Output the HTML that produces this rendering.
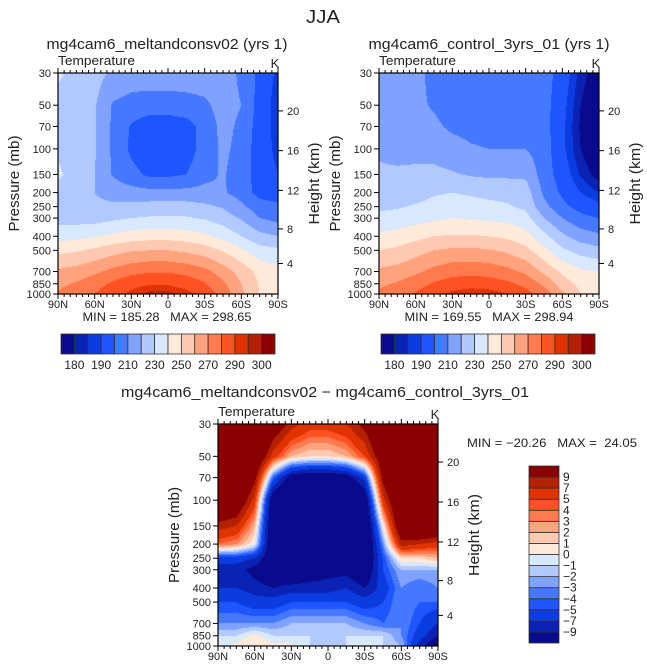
<!DOCTYPE html>
<html><head><meta charset="utf-8">
<style>
body{margin:0;background:#fff;width:647px;height:669px;overflow:hidden;position:relative;font-family:"Liberation Sans",sans-serif}
canvas{position:absolute}
svg{position:absolute;left:0;top:0}
text{white-space:pre}
</style></head>
<body>
<canvas id="c1" style="left:58px;top:73px" width="220" height="221"></canvas>
<canvas id="c2" style="left:379px;top:73px" width="220" height="221"></canvas>
<canvas id="c3" style="left:218px;top:424px" width="220" height="222"></canvas>
<svg id="ov" width="647" height="669"></svg>
<script>
// ---- data ----
const latLabels = ["90N","60N","30N","0","30S","60S","90S"];
const presLevels = [30,50,70,100,150,200,250,300,400,500,700,850,1000];
const heightTicks = [20,16,12,8,4];
const tempBounds = [180,185,190,200,210,220,230,240,250,260,270,280,290,295,300];
const tempBarLabels = ["180","","190","","210","","230","","250","","270","","290","","300"];
const diffBounds = [-9,-7,-5,-4,-3,-2,-1,0,1,2,3,4,5,7,9];
const diffBarLabels = ["−9","−7","−5","−4","−3","−2","−1","0","1","2","3","4","5","7","9"];
// rows: pressure levels; columns: 90N..90S every 15 deg
const tempMelt = [
[232,226,224,218,216,216,216,216,216,215,208,197,188],
[226,225,221,209,206,205,205,206,208,214,210,196,186],
[227,225,221,208,199,194,194,196,204,213,208,195,187],
[228,226,221,208,198,193,193,195,204,212,207,194,188],
[232,225,220,209,203,198,198,200,207,211,205,195,190],
[226,224,220,216,214,213,213,213,213,211,206,196,193],
[224,224,222,222,223,224,225,224,222,219,212,205,203],
[226,226,226,228,230,231,231,231,229,225,219,210,207],
[236,237,239,242,245,246,246,245,242,237,230,223,220],
[247,249,252,256,259,260,260,258,255,249,242,234,232],
[262,264,268,273,277,279,279,277,273,265,256,247,243],
[268,271,276,282,287,289,289,286,281,272,260,249,240],
[271,275,280,286,292,297,297,293,286,277,262,250,245]];
const tempCtrl = [
[215,215,213,207,205,205,205,205,205,205,195,183,175],
[215,214,212,209,205,204,204,204,205,204,193,180,172],
[216,214,213,212,208,207,206,206,205,204,192,179,171],
[219,218,217,217,214,211,210,210,210,205,192,180,172],
[221,221,222,222,221,219,218,218,218,205,195,184,177],
[223,224,226,229,230,229,228,227,225,208,198,190,185],
[228,229,231,233,234,233,232,231,228,213,203,196,192],
[233,234,236,238,240,239,238,237,234,220,210,203,200],
[242,244,247,250,251,251,250,248,244,233,222,215,212],
[250,252,256,260,262,262,261,258,253,243,232,226,223],
[262,264,268,273,276,277,276,273,268,258,248,242,240],
[268,271,276,281,285,286,285,282,277,268,255,247,244],
[272,276,281,287,292,295,294,290,284,275,262,250,246]];
const tempDiff = [
[20,20,18,12,8,6,6,7,10,15,20,20,20],
[20,18,14,6,2,1,1,2,5,12,18,20,20],
[20,16,10,-4,-11,-12,-12,-11,-6,10,18,20,20],
[15,13,6,-12,-15,-15,-15,-15,-12,6,15,20,20],
[8,7,2,-13,-15,-16,-16,-16,-14,0,13,15,14],
[4,3,0,-13,-15,-15,-15,-15,-14,-3,8,7,6],
[-6,-6,-7,-12,-14,-13,-12,-12,-13,-5,1,1,2],
[-8,-8,-10,-12,-13,-11,-10,-10,-12,-5,-2,-2,-2],
[-7,-7,-8,-9,-8,-8,-8,-7,-9,-6,-3,-4,-3],
[-5,-5,-6,-6,-5,-5,-5,-5,-6,-5,-3,-4,-4],
[-3,-3,-3,-3,-2,-2,-2,-2,-3,-4,-3,-5,-7],
[-1,-1,0.5,-1,-1,-1,-2,-1,-1,-1,-3,-6,-9],
[-1,0.5,1,0.5,0.3,-1,-1,-1,-1,-1,-2,-8,-12]];
const palette = ["#0a0a8c","#0a23b4","#0a3ce0","#1e55ff","#4678ff","#80a2ff","#b2c9ff","#d8e8ff","#ffe9d9","#ffc9b1","#ffa37f","#ff7a4c","#ff5222","#e03400","#b42100","#8b0000"];

// ---- helpers ----
const LN0=Math.log(30), LNR=Math.log(1000/30);
function pFrac(p){return (Math.log(p)-LN0)/LNR;}
function zToP(z){return z<=11?1013.25*Math.pow(1-z/44.33,5.255):226.3*Math.exp(-(z-11)/6.34);}
function hexRgb(h){return [parseInt(h.substr(1,2),16),parseInt(h.substr(3,2),16),parseInt(h.substr(5,2),16)];}
const rgbPal = palette.map(hexRgb);
const lp = presLevels.map(Math.log);
function sample(grid,fx,fy){
  const lat=fx*12; const i=Math.min(11,Math.floor(lat)); const tx=lat-i;
  const l=LN0+fy*LNR; let j=0; while(j<11 && l>lp[j+1]) j++;
  const ty=Math.max(0,Math.min(1,(l-lp[j])/(lp[j+1]-lp[j])));
  const a=grid[j][i]*(1-tx)+grid[j][i+1]*tx, b=grid[j+1][i]*(1-tx)+grid[j+1][i+1]*tx;
  return a*(1-ty)+b*ty;
}
function cls(v,b){let k=0; while(k<b.length && v>=b[k]) k++; return k;}
function drawField(id,grid,bounds){
  const c=document.getElementById(id), ctx=c.getContext('2d');
  const w=c.width,h=c.height, img=ctx.createImageData(w,h);
  for(let y=0;y<h;y++)for(let x=0;x<w;x++){
    const col=rgbPal[cls(sample(grid,(x+.5)/w,(y+.5)/h),bounds)];
    const o=(y*w+x)*4; img.data[o]=col[0];img.data[o+1]=col[1];img.data[o+2]=col[2];img.data[o+3]=255;
  }
  ctx.putImageData(img,0,0);
}
drawField('c1',tempMelt,tempBounds);
drawField('c2',tempCtrl,tempBounds);
drawField('c3',tempDiff,diffBounds);

const NS="http://www.w3.org/2000/svg", ov=document.getElementById('ov');
function el(tag,attrs,parent){const e=document.createElementNS(NS,tag);for(const k in attrs)e.setAttribute(k,attrs[k]);(parent||ov).appendChild(e);return e;}
function txt(x,y,s,size,anchor,name,rot,len){
  const t=el('text',{x:x,y:y,'font-size':size,'text-anchor':anchor||'middle',fill:'#222','font-family':'Liberation Sans, sans-serif'});
  if(rot) t.setAttribute('transform','rotate(-90 '+x+' '+y+')');
  if(len){t.setAttribute('textLength',len);t.setAttribute('lengthAdjust','spacingAndGlyphs');}
  
  
  t.textContent=s; return t;
}
function axes(x0,y0,w,h,pfx){
  const g=el('g',{});
  
  
  el('rect',{x:x0,y:y0,width:w,height:h,fill:'none',stroke:'#000','stroke-width':1.2},g);
  for(let d=0;d<=36;d++){
    const x=x0+w*d/36, maj=d%6===0, L=maj?5:3;
    el('line',{x1:x,y1:y0,x2:x,y2:y0-L,stroke:'#000','stroke-width':1},g);
    el('line',{x1:x,y1:y0+h,x2:x,y2:y0+h+L,stroke:'#000','stroke-width':1},g);
  }
  latLabels.forEach((s,i)=>txt(x0+w*i/6,y0+h+14,s,11,'middle',pfx+'-x-label-'+s));
  presLevels.forEach(p=>{
    const y=y0+h*pFrac(p);
    el('line',{x1:x0-5,y1:y,x2:x0,y2:y,stroke:'#000','stroke-width':1},g);
    txt(x0-7,y+4,String(p),11,'end',pfx+'-y-label-'+p);
  });
  heightTicks.forEach(z=>{
    const y=y0+h*pFrac(zToP(z));
    el('line',{x1:x0+w,y1:y,x2:x0+w+5,y2:y,stroke:'#000','stroke-width':1},g);
    txt(x0+w+9,y+4,String(z),11,'start',pfx+'-height-label-'+z);
  });
  txt(x0,y0-8,'Temperature',13,'start',pfx+'-variable-label',false,77);
  txt(x0+w-3,y0-5,'K',13,'middle',pfx+'-units-label');
  txt(x0-39,y0+h/2,'Pressure (mb)',15,'middle',pfx+'-y-axis-title',true,96);
  txt(x0+w+41,y0+h/2,'Height (km)',15,'middle',pfx+'-right-axis-title',true,82);
}
axes(58,73,220,221,'panel1');
axes(379,73,220,221,'panel2');
axes(218,424,220,222,'panel3');

txt(323,23,'JJA',18,'middle','main-title',false,34);
txt(167,49,'mg4cam6_meltandconsv02 (yrs 1)',15,'middle','panel1-title',false,241);
txt(489,49,'mg4cam6_control_3yrs_01 (yrs 1)',15,'middle','panel2-title',false,241);
txt(167,321,'MIN = 185.28   MAX = 298.65',12,'middle','panel1-minmax',false,169);
txt(489,321,'MIN = 169.55   MAX = 298.94',12,'middle','panel2-minmax',false,169);
txt(325,397,'mg4cam6_meltandconsv02 − mg4cam6_control_3yrs_01',15,'middle','panel3-title',false,408);
txt(467,447,'MIN = −20.26   MAX =  24.05',12,'start','panel3-minmax',false,170);

function hbar(x0,y0,w,h,pfx){
  const n=palette.length,bw=w/n;
  palette.forEach((c,i)=>{
    const r=el('rect',{x:x0+i*bw,y:y0,width:bw,height:h,fill:c,stroke:'#333','stroke-width':0.8});
    
    
  });
  tempBarLabels.forEach((s,i)=>{ if(s) txt(x0+(i+1)*bw,y0+h+15,s,12,'middle',pfx+'-colorbar-label-'+s); });
}
hbar(61,334,214,20,'panel1');
hbar(381,334,214,20,'panel2');
(function(){
  const x0=529,y0=466,w=30,h=177,n=palette.length,bh=h/n;
  palette.forEach((c,i)=>{
    const r=el('rect',{x:x0,y:y0+h-(i+1)*bh,width:w,height:bh,fill:c,stroke:'#333','stroke-width':0.8});
    
    
  });
  diffBarLabels.forEach((s,i)=>txt(x0+w+4,y0+h-(i+1)*bh+4,s,12,'start','panel3-colorbar-label'));
})();
</script>
</body></html>
